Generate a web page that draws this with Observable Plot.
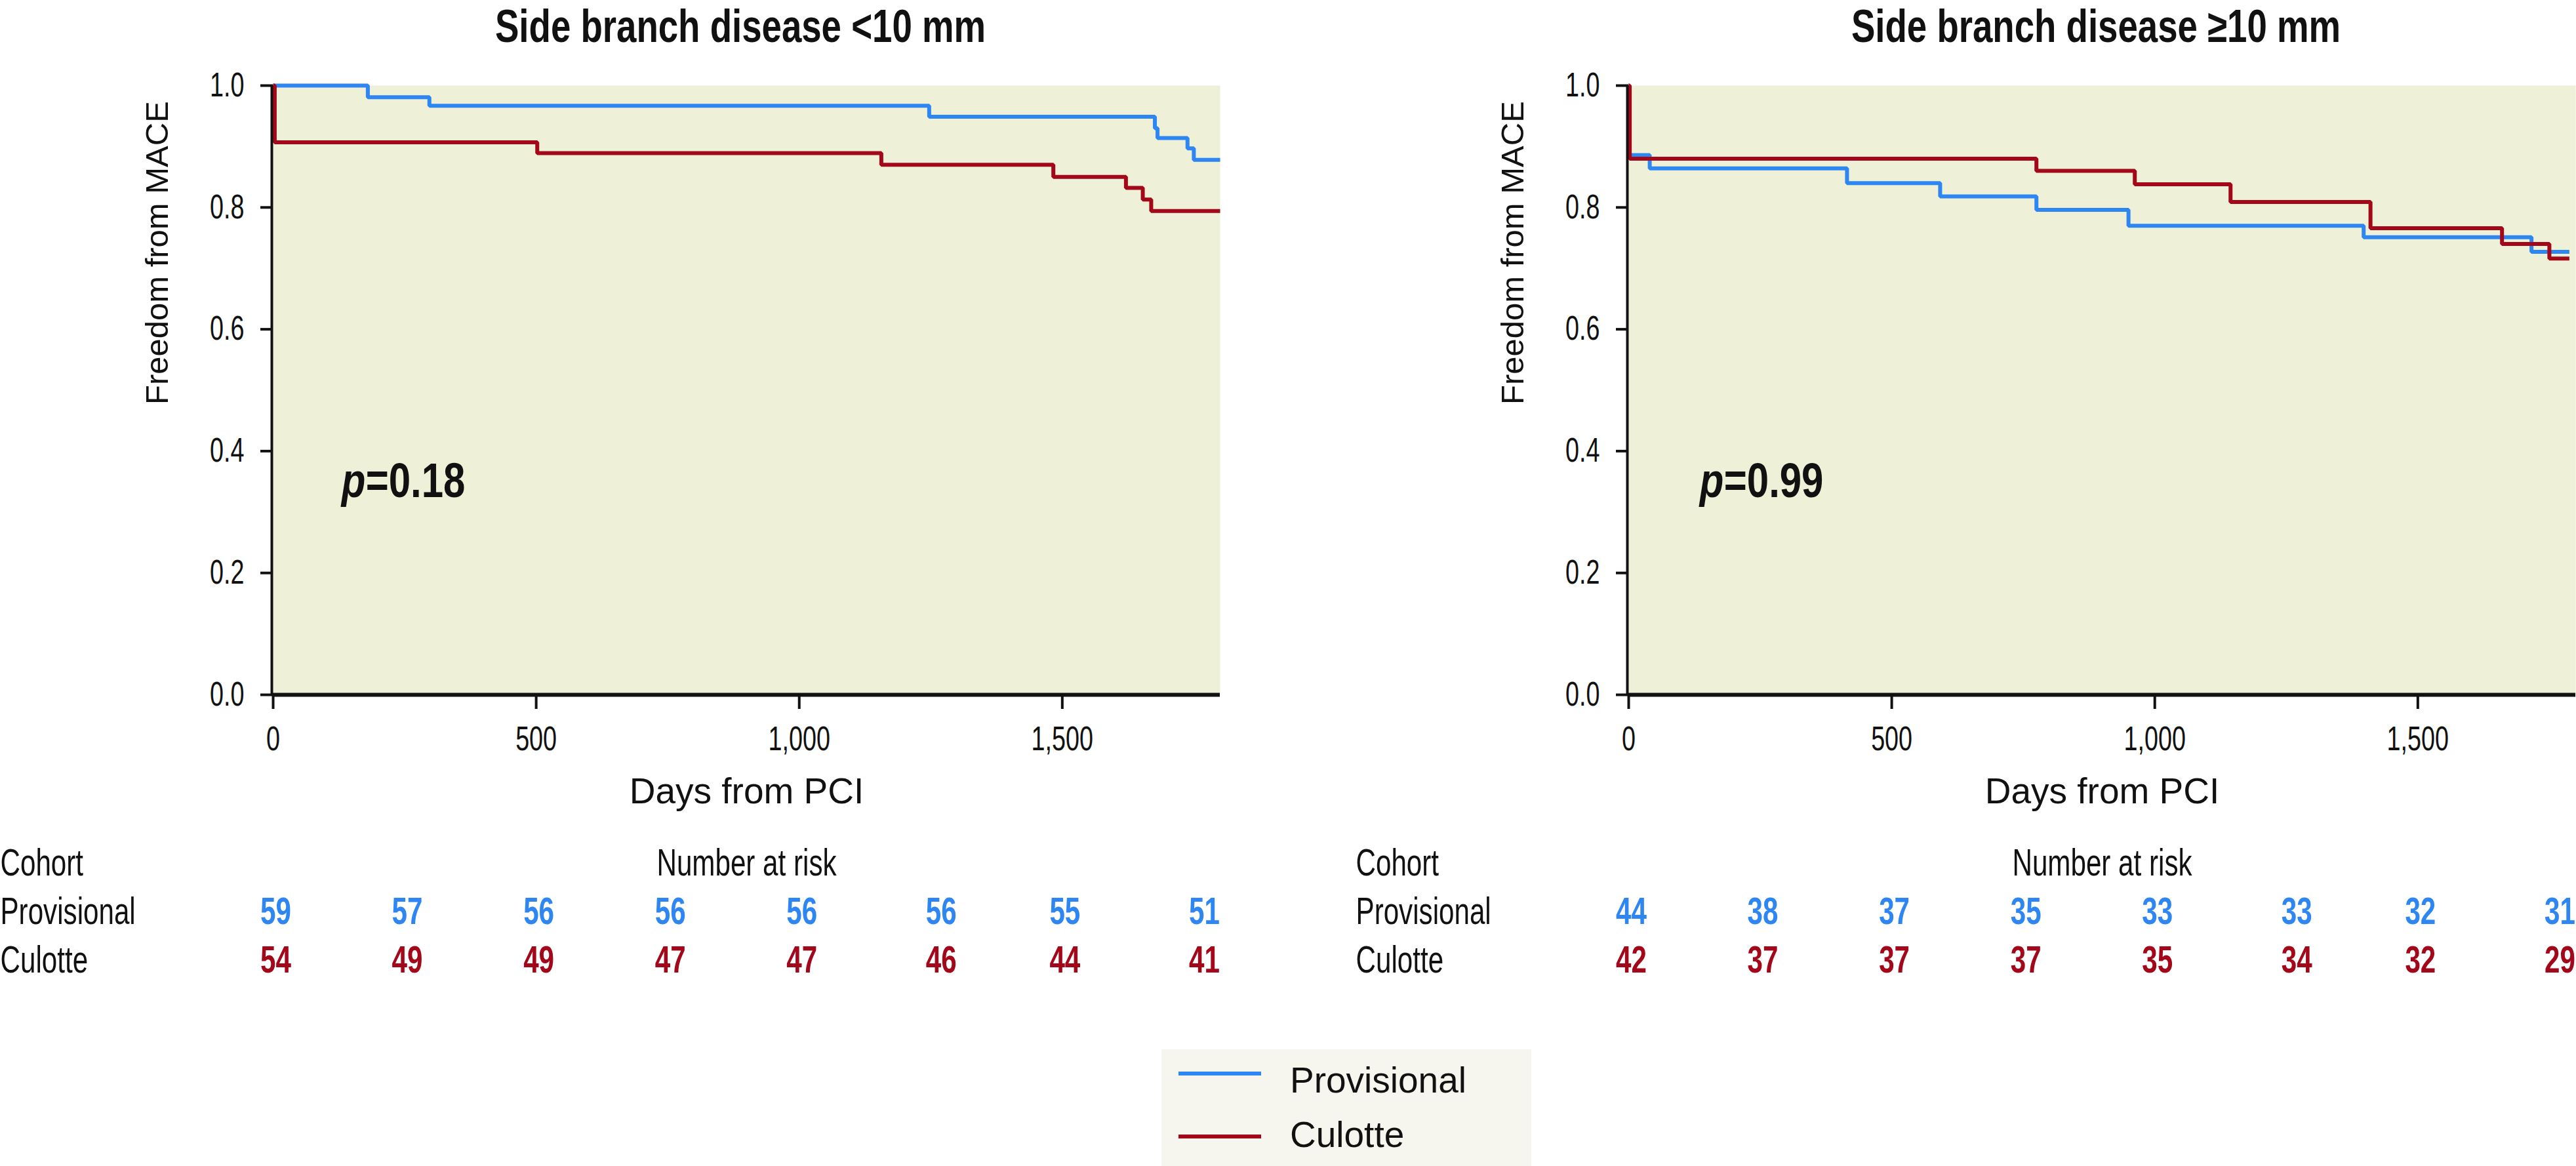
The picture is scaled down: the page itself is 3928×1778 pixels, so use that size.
<!DOCTYPE html>
<html>
<head>
<meta charset="utf-8">
<script src="https://cdn.jsdelivr.net/npm/d3@7"></script>
<script src="https://cdn.jsdelivr.net/npm/@observablehq/plot@0.6"></script>
<style>
  html, body { margin: 0; padding: 0; background: #ffffff; }
  #root { position: relative; width: 3928px; height: 1778px; overflow: hidden;
          font-family: "Liberation Sans", Arial, sans-serif; color: #111; }
  .panel { position: absolute; top: 0; width: 1860px; height: 1778px; }
  .title { position: absolute; left: 407px; width: 1444px; top: 0px; height: 80px;
           font-size: 70px; line-height: 80px; font-weight: bold; text-align: center;
           white-space: nowrap; transform: scaleX(0.78); transform-origin: 50% 50%; }
  .km { position: absolute; left: 0; top: 100px; }
  .risk { position: absolute; left: 0; top: 1250px; }
  .legend { position: absolute; left: 1771px; top: 1600px; width: 564px; height: 178px; background: #F7F6EE; }
  .legend .sw { position: absolute; left: 26px; width: 126px; height: 6px; }
  .legend .lb { position: absolute; left: 196px; font-size: 55px; line-height: 55px; white-space: nowrap; }
</style>
</head>
<body>
<div id="root"></div>
<script>
// ---------- data ----------
const panelTitles = ["Side branch disease <10 mm", "Side branch disease \u226510 mm"];
const pValues = ["=0.18", "=0.99"];
const pLabelDay = [130, 135];
const pLabelSurv = [0.325, 0.325];
const seriesNames = ["Provisional", "Culotte"];
const seriesColors = ["#2E86F2", "#A3081A"];

// Side branch disease <10 mm
const smallProvDays = [0, 180, 297, 1247, 1676, 1681, 1738, 1750, 1800];
const smallProvSurv = [1.0, 0.981, 0.967, 0.949, 0.930, 0.914, 0.897, 0.878, 0.878];
const smallCulDays  = [0, 3, 502, 1156, 1483, 1621, 1653, 1669, 1800];
const smallCulSurv  = [1.0, 0.907, 0.889, 0.870, 0.850, 0.832, 0.813, 0.794, 0.794];
// Side branch disease >=10 mm
const largeProvDays = [0, 1, 40, 415, 592, 775, 950, 1397, 1716, 1788];
const largeProvSurv = [1.0, 0.886, 0.864, 0.840, 0.818, 0.796, 0.770, 0.751, 0.727, 0.727];
const largeCulDays  = [0, 2, 775, 962, 1144, 1410, 1660, 1750, 1788];
const largeCulSurv  = [1.0, 0.880, 0.860, 0.838, 0.809, 0.766, 0.740, 0.716, 0.716];

// Number at risk
const riskDays = [0, 250, 500, 750, 1000, 1265, 1500, 1765];
const smallProvRisk = [59, 57, 56, 56, 56, 56, 55, 51];
const smallCulRisk  = [54, 49, 49, 47, 47, 46, 44, 41];
const largeProvRisk = [44, 38, 37, 35, 33, 33, 32, 31];
const largeCulRisk  = [42, 37, 37, 37, 35, 34, 32, 29];

const yTicks = [0, 0.2, 0.4, 0.6, 0.8, 1.0];
const xTicks = [0, 500, 1000, 1500];
const xDomain = [0, 1800];
const tableRows = ["Cohort", "Provisional", "Culotte"];
const tableHeader = "Number at risk";
const xLabel = "Days from PCI";
const yLabel = "Freedom from MACE";

// ---------- helpers ----------
const FONT = "'Liberation Sans', Arial, sans-serif";
const INK = "#111111";

// narrow (condensed) rendering of a text, anchored at its own anchor point
function condenseText(svg, pick) {
  svg.querySelectorAll("text").forEach(t => {
    const s = pick(t.textContent);
    if (!s || s === 1) return;
    const x = parseFloat(t.getAttribute("x") || 0) || 0;
    const y = parseFloat(t.getAttribute("y") || 0) || 0;
    const tr = t.getAttribute("transform") || "";
    t.setAttribute("transform", (tr + ` translate(${x},${y}) scale(${s},1) translate(${-x},${-y})`).trim());
  });
}

function buildPanel(i, curves, risks, left) {
  const panel = document.createElement("div");
  panel.className = "panel";
  panel.style.left = left + "px";

  const title = document.createElement("div");
  title.className = "title";
  title.textContent = panelTitles[i];
  panel.appendChild(title);

  const lineData = curves.flatMap((c, s) =>
    c.days.map((d, j) => ({series: seriesNames[s], day: d, surv: c.surv[j]})));
  const pData = [{day: pLabelDay[i], surv: pLabelSurv[i]}];

  const km = Plot.plot({
    width: 1860, height: 1150,
    marginLeft: 416, marginRight: 0, marginTop: 30, marginBottom: 191,
    style: {background: "transparent", fontFamily: FONT, color: INK, overflow: "visible"},
    x: {domain: xDomain},
    y: {domain: [0, 1]},
    color: {domain: seriesNames, range: seriesColors},
    marks: [
      Plot.frame({fill: "#EEF0D7", stroke: "none"}),
      Plot.line(lineData, {x: "day", y: "surv", z: "series", stroke: "series",
        strokeWidth: 6, curve: "step-after", strokeLinejoin: "miter", strokeLinecap: "butt"}),
      Plot.ruleY([0], {stroke: INK, strokeWidth: 6}),
      Plot.ruleX([0], {stroke: INK, strokeWidth: 4, dx: -2}),
      Plot.axisY({ticks: yTicks, tickFormat: d3.format(".1f"), tickSize: 19, tickPadding: 25,
        strokeWidth: 4, fontSize: 51, fontFamily: FONT, label: null}),
      Plot.axisX({ticks: xTicks, tickFormat: d3.format(","), tickSize: 22, tickPadding: 26,
        strokeWidth: 4, fontSize: 51, fontFamily: FONT, label: null}),
      Plot.text([xLabel], {text: d => d, frameAnchor: "bottom", lineAnchor: "bottom", dy: 165,
        fontSize: 55, fill: INK}),
      Plot.text([yLabel], {text: d => d, frameAnchor: "left", rotate: -90, lineAnchor: "bottom",
        dx: -161, dy: 22, fontSize: 49, fill: INK}),
      Plot.text(pData, {x: "day", y: "surv", text: () => "p", textAnchor: "start", lineAnchor: "bottom",
        fontSize: 74, fontWeight: "bold", fontStyle: "italic", fill: INK}),
      Plot.text(pData, {x: "day", y: "surv", text: () => pValues[i], textAnchor: "start", lineAnchor: "bottom",
        dx: 37, fontSize: 74, fontWeight: "bold", fill: INK})
    ]
  });
  km.classList.add("km");
  condenseText(km, txt => (txt === xLabel || txt === yLabel) ? 1
    : (txt === "p" || txt === pValues[i]) ? 0.81 : 0.74);
  panel.appendChild(km);

  const riskData = seriesNames.flatMap((name, s) =>
    riskDays.map((d, j) => ({series: name, day: d, n: risks[s][j]})));

  const table = Plot.plot({
    width: 1860, height: 250,
    marginLeft: 416, marginRight: 0, marginTop: 83, marginBottom: 18,
    style: {background: "transparent", fontFamily: FONT, color: INK, overflow: "visible"},
    x: {domain: xDomain, axis: null},
    y: {type: "point", domain: tableRows, padding: 0, axis: null},
    color: {domain: seriesNames, range: seriesColors},
    marks: [
      Plot.text(tableRows, {y: d => d, text: d => d, frameAnchor: "left", textAnchor: "start",
        lineAnchor: "bottom", dx: -416, fontSize: 57, fill: INK}),
      Plot.text([tableHeader], {y: () => tableRows[0], text: d => d, frameAnchor: "middle",
        lineAnchor: "bottom", fontSize: 57, fill: INK}),
      Plot.text(riskData, {x: "day", y: "series", text: "n", fill: "series", fontWeight: "bold",
        lineAnchor: "bottom", fontSize: 57, dx: 4})
    ]
  });
  table.classList.add("risk");
  condenseText(table, () => 0.74);
  panel.appendChild(table);
  return panel;
}

const root = document.getElementById("root");
root.appendChild(buildPanel(0,
  [{days: smallProvDays, surv: smallProvSurv}, {days: smallCulDays, surv: smallCulSurv}],
  [smallProvRisk, smallCulRisk], 0));
root.appendChild(buildPanel(1,
  [{days: largeProvDays, surv: largeProvSurv}, {days: largeCulDays, surv: largeCulSurv}],
  [largeProvRisk, largeCulRisk], 2067));

// legend
const legend = document.createElement("div");
legend.className = "legend";
seriesNames.forEach((name, s) => {
  const sw = document.createElement("div");
  sw.className = "sw";
  sw.style.top = (34 + s * 96) + "px";
  sw.style.background = seriesColors[s];
  legend.appendChild(sw);
  const lb = document.createElement("div");
  lb.className = "lb";
  lb.style.top = (20 + s * 83) + "px";
  lb.textContent = name;
  legend.appendChild(lb);
});
root.appendChild(legend);
</script>
</body>
</html>
